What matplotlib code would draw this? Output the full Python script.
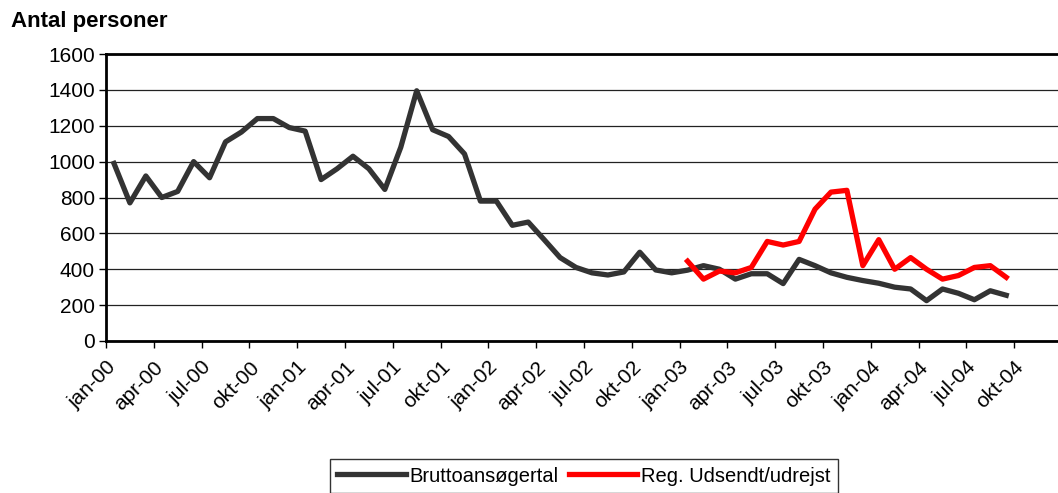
import matplotlib.pyplot as plt
import numpy as np

plt.rcParams['font.family'] = ['Liberation Sans', 'DejaVu Sans']

# monthly values jan-00 .. sep-04
brutto = [990, 770, 920, 800, 834, 1000, 910, 1110, 1165, 1240,
          1240, 1190, 1170, 900, 960, 1030, 960, 845, 1080, 1395,
          1178, 1140, 1043, 780, 780, 645, 663, 565, 465, 410,
          380, 368, 385, 495, 396, 380, 395, 420, 400, 345,
          375, 375, 320, 455, 420, 380, 355, 337, 322, 300,
          290, 225, 290, 266, 230, 280, 255]
# jan-03 .. sep-04
reg_udsendt = [445, 345, 390, 380, 410, 555, 535, 555, 735, 830,
               840, 420, 565, 400, 465, 400, 345, 365, 410, 420,
               355]
reg_start = 36

tick_labels = ['jan-00', 'apr-00', 'jul-00', 'okt-00',
               'jan-01', 'apr-01', 'jul-01', 'okt-01',
               'jan-02', 'apr-02', 'jul-02', 'okt-02',
               'jan-03', 'apr-03', 'jul-03', 'okt-03',
               'jan-04', 'apr-04', 'jul-04', 'okt-04']

fs = 15

fig = plt.figure(figsize=(10.58, 4.93), dpi=100)
ax = fig.add_axes([106 / 1058, 152 / 493, 956 / 1058, 287 / 493])

x_b = np.arange(len(brutto)) + 0.5
x_r = np.arange(reg_start, reg_start + len(reg_udsendt)) + 0.5

ax.plot(x_b, brutto, color='#333333', lw=3.8, solid_joinstyle='round',
        label='Bruttoansøgertal', zorder=3)
ax.plot(x_r, reg_udsendt, color='#ff0000', lw=3.8, solid_joinstyle='round',
        label='Reg. Udsendt/udrejst', zorder=4)

ax.set_xlim(0, 60)
ax.set_ylim(0, 1600)
ax.set_yticks(np.arange(0, 1601, 200))
ax.set_xticks(np.arange(0, 3 * len(tick_labels), 3))
ax.set_xticklabels(tick_labels, rotation=45, ha='right', va='top',
                   rotation_mode='anchor')
ax.tick_params(axis='both', labelsize=fs, length=5, width=1,
               direction='out', colors='black')
ax.tick_params(axis='x', pad=7)
ax.tick_params(axis='y', pad=3)

ax.grid(axis='y', color='#222222', lw=0.9)
ax.set_axisbelow(True)
for s in ['left', 'bottom', 'top']:
    ax.spines[s].set_linewidth(2)
    ax.spines[s].set_color('black')
ax.spines['right'].set_visible(False)

fig.text(11 / 1058, 1 - 22 / 493, 'Antal personer', fontsize=16,
         fontweight='bold', va='center', ha='left')

leg = fig.legend(loc='center', bbox_to_anchor=(584 / 1058, 1 - 476 / 493),
                 ncol=2, fontsize=14.5, frameon=True, fancybox=False,
                 edgecolor='black', handlelength=3.4, handletextpad=0.2,
                 columnspacing=0.5, borderpad=0.35, borderaxespad=0)
leg.get_frame().set_linewidth(1)

fig.savefig('out.png', dpi=100)
